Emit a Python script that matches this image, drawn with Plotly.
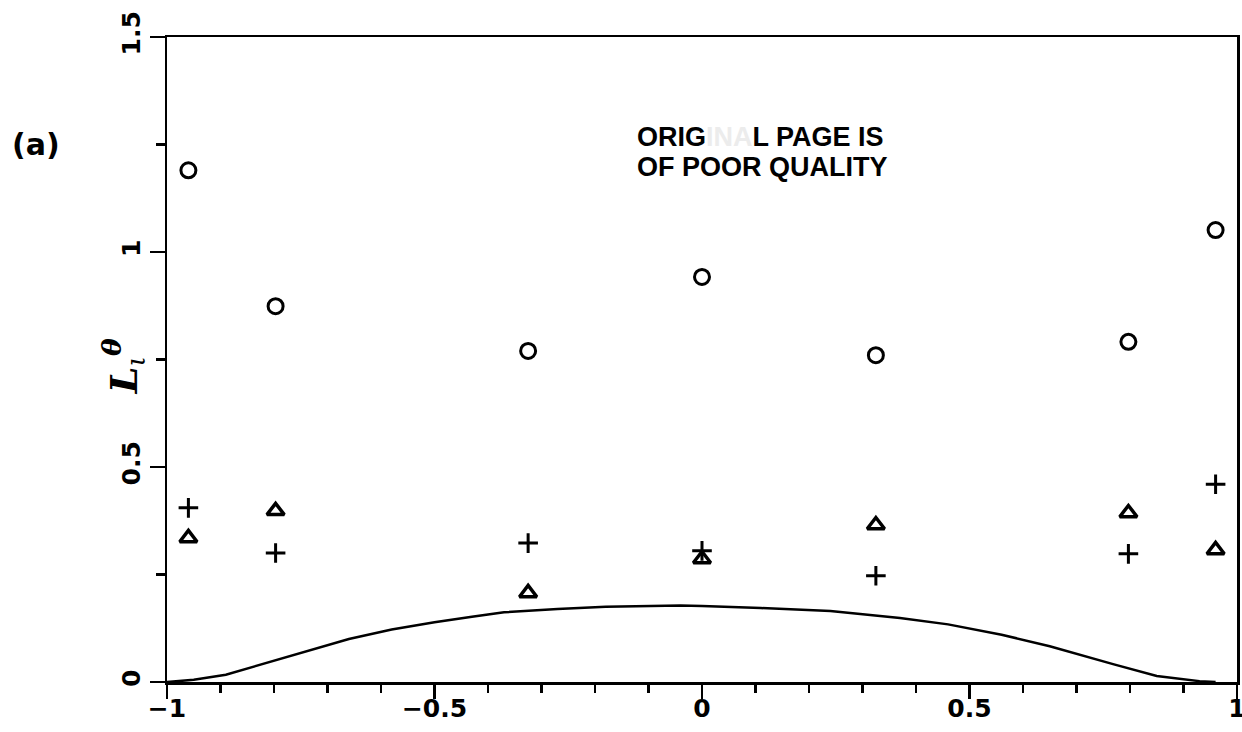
import plotly.graph_objects as go

# ---- data ----
x_nodes = [-0.96, -0.797, -0.325, 0.0, 0.325, 0.797, 0.96]
circle_vals = [1.19, 0.874, 0.770, 0.942, 0.760, 0.791, 1.051]
plus_vals = [0.405, 0.300, 0.323, 0.305, 0.247, 0.298, 0.460]
triangle_vals = [0.335, 0.398, 0.207, 0.286, 0.365, 0.393, 0.307]

curve_x = [-1.0, -0.95, -0.89, -0.81, -0.73, -0.66, -0.58, -0.50, -0.43, -0.37,
           -0.27, -0.18, -0.04, 0.0, 0.11, 0.24, 0.37, 0.46, 0.56, 0.65,
           0.77, 0.85, 0.93, 0.96]
curve_y = [0.0, 0.005, 0.017, 0.046, 0.076, 0.100, 0.122, 0.139, 0.152, 0.162,
           0.170, 0.175, 0.178, 0.177, 0.172, 0.165, 0.149, 0.134, 0.110, 0.083,
           0.041, 0.014, 0.002, 0.0]

x_ticks = [-1, -0.5, 0, 0.5, 1]
x_labels = ["\u22121", "\u22120.5", "0", "0.5", "1"]
y_ticks = [0, 0.5, 1, 1.5]
y_labels = ["0", "0.5", "1", "1.5"]

fig = go.Figure()

fig.add_trace(go.Scatter(x=curve_x, y=curve_y, mode="lines",
                         line=dict(color="black", width=2.5), showlegend=False))
fig.add_trace(go.Scatter(x=x_nodes, y=circle_vals, mode="markers",
                         marker=dict(symbol="circle-open", size=15, color="black",
                                     line=dict(width=3, color="black")),
                         showlegend=False))
fig.add_trace(go.Scatter(x=x_nodes, y=triangle_vals, mode="markers",
                         marker=dict(symbol="triangle-up-open", size=15, color="black",
                                     line=dict(width=3.5, color="black")),
                         showlegend=False))
fig.add_trace(go.Scatter(x=x_nodes, y=plus_vals, mode="markers",
                         marker=dict(symbol="cross-thin-open", size=14, color="black",
                                     line=dict(width=3, color="black")),
                         showlegend=False))

tickfont = dict(family="DejaVu Sans", size=25, color="black", weight="bold")

fig.update_layout(
    width=1242, height=732,
    margin=dict(l=167, r=5, t=37, b=50, autoexpand=False),
    paper_bgcolor="white", plot_bgcolor="white",
    xaxis=dict(range=[-1, 1], tickvals=x_ticks, ticktext=x_labels, automargin=False,
               ticks="outside", ticklen=14, tickwidth=2.5, tickcolor="black",
               ticklabelstandoff=-12, ticklabeloverflow="allow",
               minor=dict(dtick=0.1, tick0=0, ticks="outside", ticklen=8, tickwidth=2.5,
                          tickcolor="black", showgrid=False),
               showline=True, linecolor="black", linewidth=2.5, mirror=True,
               showgrid=False, zeroline=False, tickfont=tickfont),
    yaxis=dict(range=[0, 1.5], tickvals=y_ticks, ticktext=y_labels, automargin=False,
               tickangle=-90, ticklabeloverflow="allow",
               ticks="outside", ticklen=15, tickwidth=2.5, tickcolor="black",
               minor=dict(dtick=0.25, tick0=0, ticks="outside", ticklen=9, tickwidth=2.5,
                          tickcolor="black", showgrid=False),
               showline=True, linecolor="black", linewidth=2.5, mirror=True,
               showgrid=False, zeroline=False, tickfont=tickfont),
)

# y-axis title
fig.add_annotation(text="<i><b>L</b></i><sub><i>ι</i></sub><sup><b><i>θ</i></b></sup>",
                   xref="paper", yref="paper", x=-0.04, y=0.49, xanchor="center", yanchor="middle",
                   textangle=-90, showarrow=False,
                   font=dict(family="DejaVu Serif", size=38, color="black"))

# panel label
fig.add_annotation(text="(a)", xref="paper", yref="paper",
                   x=-0.147, y=0.833, xanchor="left", yanchor="middle", showarrow=False,
                   font=dict(family="DejaVu Sans", size=30, color="black", weight="bold"))

# stamp text
fig.add_annotation(text="<b>ORIG<span style='color:#ececec'>INA</span>L PAGE IS</b>",
                   xref="paper", yref="paper",
                   x=0.437, y=0.845, xanchor="left", yanchor="middle", align="left",
                   showarrow=False,
                   font=dict(family="Liberation Sans", size=27, color="black"))
fig.add_annotation(text="<b>OF POOR QUALITY</b>",
                   xref="paper", yref="paper",
                   x=0.437, y=0.799, xanchor="left", yanchor="middle", align="left",
                   showarrow=False,
                   font=dict(family="Liberation Sans", size=27, color="black"))

fig.write_html("out.html", config={"displayModeBar": False, "staticPlot": True})

# remove the default page margin so the figure fills the window exactly
with open("out.html", "r", encoding="utf-8") as f:
    html = f.read()
html = html.replace("<head>", "<head><style>html,body{margin:0;padding:0;overflow:hidden;}</style>", 1)
with open("out.html", "w", encoding="utf-8") as f:
    f.write(html)
